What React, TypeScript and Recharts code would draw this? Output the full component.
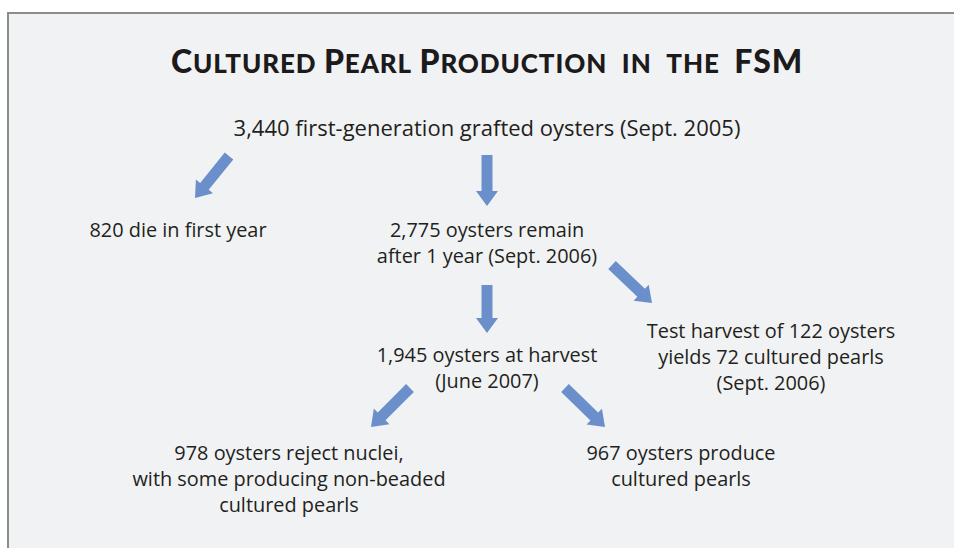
import React from 'react';
import { ScatterChart, Scatter, XAxis, YAxis, ReferenceLine } from 'recharts';

// Flowchart content
const titleWords: { text: string; caps: 'small' | 'full' }[] = [
  { text: 'Cultured', caps: 'small' },
  { text: 'Pearl', caps: 'small' },
  { text: 'Production', caps: 'small' },
  { text: 'in', caps: 'small' },
  { text: 'the', caps: 'small' },
  { text: 'FSM', caps: 'full' },
];

const nodeLabels: string[][] = [
  ['3,440 first-generation grafted oysters (Sept. 2005)'],
  ['820 die in first year'],
  ['2,775 oysters remain', 'after 1 year (Sept. 2006)'],
  ['Test harvest of 122 oysters', 'yields 72 cultured pearls', '(Sept. 2006)'],
  ['1,945 oysters at harvest', '(June 2007)'],
  ['978 oysters reject nuclei,', 'with some producing non-beaded', 'cultured pearls'],
  ['967 oysters produce', 'cultured pearls'],
];
// layout position of each node (chart units)
const nodeX = [487, 178, 487, 771, 487, 289, 681];
const nodeY = [136, 237, 237, 338, 362, 460, 460];
const nodeSize = [22, 19.9, 19.9, 19.9, 19.9, 19.9, 19.9];

// arrows: tail and tip in chart units
const arrowTail = [
  { x: 229, y: 156 },
  { x: 487, y: 155 },
  { x: 612, y: 265 },
  { x: 487, y: 285 },
  { x: 410, y: 388 },
  { x: 565, y: 388 },
];
const arrowTip = [
  { x: 195, y: 198 },
  { x: 487, y: 206 },
  { x: 652, y: 303 },
  { x: 487, y: 333 },
  { x: 371, y: 427 },
  { x: 605, y: 427 },
];

const nodes = nodeLabels.map((lines, i) => ({ x: nodeX[i], y: nodeY[i], size: nodeSize[i], lines }));
const titleData = [{ x: 487, y: 73 }];

const FONT = '"Open Sans", Lato, sans-serif';
const TITLE_FONT = 'Lato, "Open Sans", sans-serif';
const TEXT_COLOR = '#231f20';
const ARROW_COLOR = '#6b8fcb';

const NodeShape = (props: any) => {
  const { cx, cy, payload } = props;
  return (
    <text x={cx} textAnchor="middle" fontFamily={FONT} fontSize={payload.size} fill={TEXT_COLOR}>
      {payload.lines.map((l: string, i: number) => (
        <tspan key={i} x={cx} y={cy + i * 26}>
          {l}
        </tspan>
      ))}
    </text>
  );
};

const TitleShape = (props: any) => {
  const { cx, cy } = props;
  const parts: React.ReactNode[] = [];
  titleWords.forEach((w, wi) => {
    if (wi > 0) {
      parts.push(
        <tspan key={'s' + wi} fontSize={27}>
          {w.text === 'in' || w.text === 'the' || w.text === 'FSM' ? '\u00a0\u00a0' : '\u00a0'}
        </tspan>
      );
    }
    if (w.caps === 'full') {
      parts.push(
        <tspan key={'w' + wi} fontSize={32}>
          {w.text.toUpperCase()}
        </tspan>
      );
    } else if (w.text === 'in' || w.text === 'the') {
      parts.push(
        <tspan key={'w' + wi} fontSize={26}>
          {w.text.toUpperCase()}
        </tspan>
      );
    } else {
      parts.push(
        <tspan key={'f' + wi} fontSize={32}>
          {w.text[0].toUpperCase()}
        </tspan>
      );
      parts.push(
        <tspan key={'r' + wi} fontSize={26}>
          {w.text.slice(1).toUpperCase()}
        </tspan>
      );
    }
  });
  return (
    <text x={cx} y={cy} textAnchor="middle" fontFamily={TITLE_FONT} fontWeight={900} letterSpacing={0.9} fill="#1c1a1b">
      {parts}
    </text>
  );
};

const ArrowShape = (props: any) => {
  const { x1, y1, x2, y2 } = props;
  const dx = x2 - x1;
  const dy = y2 - y1;
  const len = Math.sqrt(dx * dx + dy * dy);
  const ux = dx / len;
  const uy = dy / len;
  const px = -uy;
  const py = ux;
  const sw = 5.5;
  const hw = 11;
  const hl = 15;
  const bx = x2 - ux * hl;
  const by = y2 - uy * hl;
  const pts = [
    [x1 + px * sw, y1 + py * sw],
    [bx + px * sw, by + py * sw],
    [bx + px * hw, by + py * hw],
    [x2, y2],
    [bx - px * hw, by - py * hw],
    [bx - px * sw, by - py * sw],
    [x1 - px * sw, y1 - py * sw],
  ];
  return <polygon points={pts.map((p) => p.join(',')).join(' ')} fill={ARROW_COLOR} />;
};

export default function App() {
  return (
    <div style={{ position: 'absolute', left: 0, top: 0, width: 954, height: 548, background: '#ffffff', overflow: 'hidden' }}>
      <div
        style={{
          position: 'absolute',
          left: 7,
          top: 12,
          width: 960,
          height: 560,
          background: '#f1f2f4',
          borderLeft: '2px solid #8c8c8c',
          borderTop: '2px solid #8c8c8c',
          boxSizing: 'border-box',
        }}
      />
      <div style={{ position: 'absolute', left: 0, top: 0 }}>
        <ScatterChart width={954} height={548} margin={{ top: 0, right: 0, bottom: 0, left: 0 }}>
          <XAxis type="number" dataKey="x" domain={[0, 954]} hide allowDataOverflow />
          <YAxis type="number" dataKey="y" domain={[0, 548]} reversed hide allowDataOverflow />
          {arrowTail.map((t, i) => (
            <ReferenceLine
              key={i}
              segment={[t, arrowTip[i]]}
              shape={ArrowShape}
              ifOverflow="visible"
            />
          ))}
          <Scatter data={titleData} shape={TitleShape} isAnimationActive={false} />
          <Scatter data={nodes} shape={NodeShape} isAnimationActive={false} />
        </ScatterChart>
      </div>
    </div>
  );
}
